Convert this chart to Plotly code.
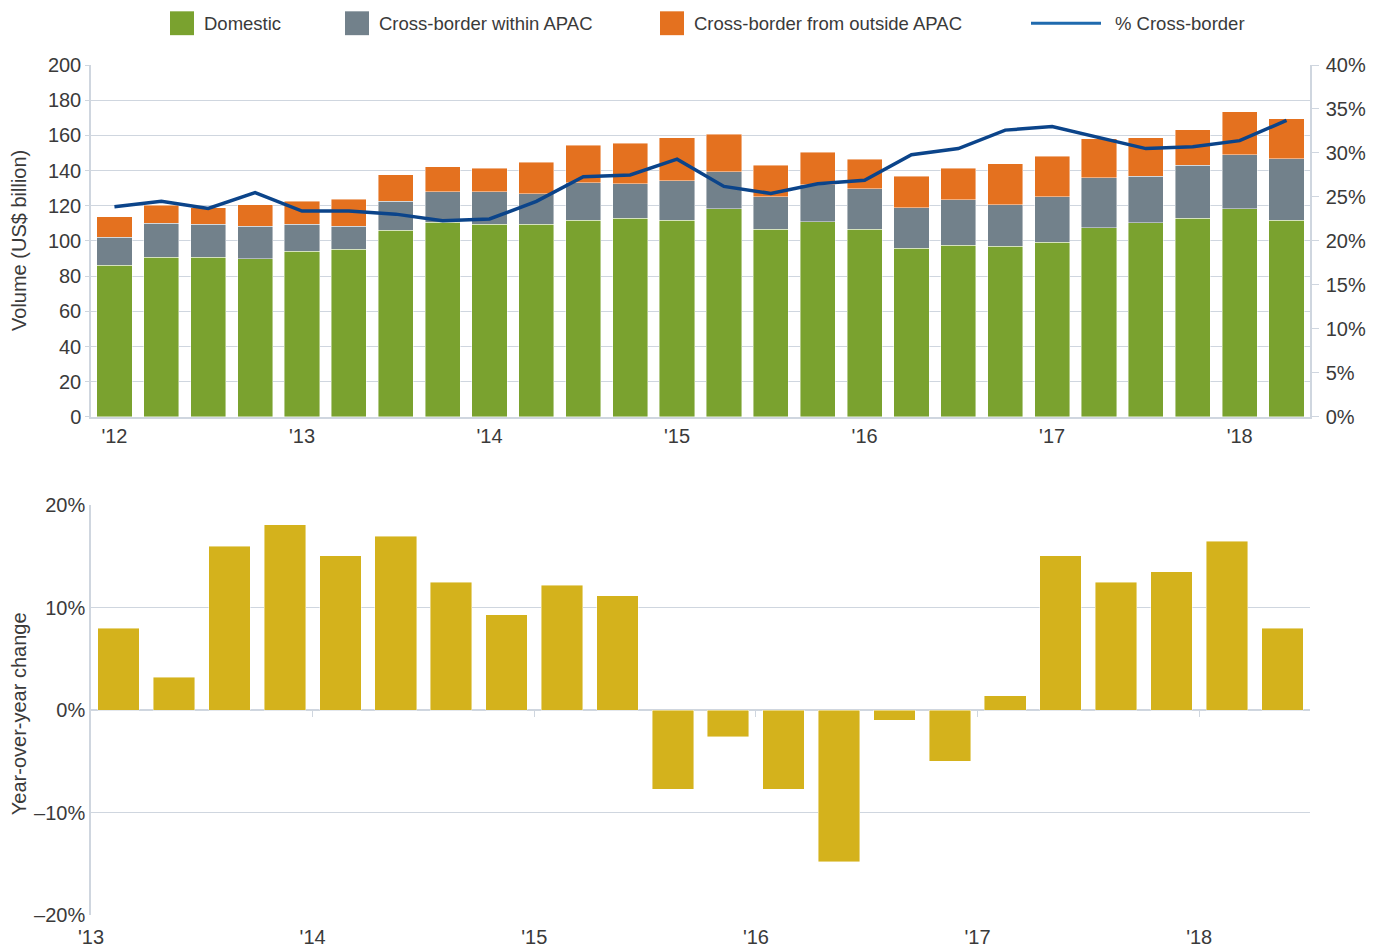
import plotly.graph_objects as go

# quarterly deal volume, '12 Q1 .. '18 Q2 (US$ billion)
quarters = [f"{y} Q{q}" for y in range(2012, 2019) for q in range(1, 5)][:26]
domestic = [86.3, 90.8, 90.8, 89.8, 94.2, 95.3, 106.0, 110.6, 109.4, 109.4, 111.9, 112.8, 111.9,
            118.3, 106.6, 110.9, 106.6, 95.9, 97.7, 97.0, 99.4, 107.5, 110.3, 112.8, 118.3, 111.9]
within_apac = [15.8, 19.4, 18.6, 18.5, 15.2, 13.0, 16.6, 17.3, 18.5, 17.5, 21.2, 19.6, 22.2,
               21.1, 18.6, 21.1, 23.0, 23.1, 25.6, 23.7, 25.8, 28.3, 26.4, 30.1, 30.7, 34.8]
outside_apac = [11.6, 10.1, 9.6, 12.4, 13.2, 15.3, 15.1, 14.3, 13.3, 17.7, 21.3, 23.0, 24.7,
                21.2, 17.7, 18.5, 16.9, 17.7, 17.9, 23.2, 23.0, 22.2, 22.1, 20.4, 24.3, 22.8]
pct_cross_border = [23.9, 24.5, 23.7, 25.5, 23.4, 23.4, 23.05, 22.3, 22.5, 24.5, 27.3, 27.5, 29.3,
                    26.2, 25.4, 26.5, 26.9, 29.8, 30.5, 32.6, 33.0, 31.7, 30.5, 30.7, 31.4, 33.7]
top_ticktext = ["'12", "'13", "'14", "'15", "'16", "'17", "'18"]

# year-over-year change, '13 Q1 .. '18 Q2 (%)
yoy_change = [8.0, 3.2, 16.0, 18.1, 15.1, 17.0, 12.5, 9.3, 12.2, 11.2, -7.7,
              -2.6, -7.7, -14.8, -1.0, -5.0, 1.4, 15.1, 12.5, 13.5, 16.5, 8.0]
bottom_ticktext = ["'13", "'14", "'15", "'16", "'17", "'18"]
yoy_ticks = [-20, -10, 0, 10, 20]
yoy_ticktext = ["–20%", "–10%", "0%", "10%", "20%"]

GREEN, GREY, ORANGE = "#7aa22f", "#72818b", "#e4711f"
NAVY, GOLD = "#0b448a", "#d4b21c"
GRID = "#cfd6df"
TEXT = "#3a3a3a"
FONT = "Liberation Sans, Arial, sans-serif"

W, H = 1382, 952
OFF = 8  # the page body adds an 8px margin around the plot div
# the page overflows vertically and ends up slightly squeezed; undo that in y
SQ_A, SQ_B = 0.99415, 0.38


def page_y(y):
    return (y - SQ_B) / SQ_A


PLOT_TOP, PLOT_BOT = page_y(65), page_y(920)
L, T = 91 - OFF, PLOT_TOP - OFF
plot_w, plot_h = 1219, PLOT_BOT - PLOT_TOP
R, B = W - L - plot_w, H - T - plot_h


def px(x):
    # page pixel -> paper x
    return (x - OFF - L) / plot_w


def py(y):
    # page pixel -> paper y
    return (PLOT_BOT - page_y(y)) / plot_h


top_dom = [py(419), 1.0]
bot_dom = [0.0, py(508)]

fig = go.Figure()

xi = list(range(len(quarters)))
bar_edge = dict(width=0.8, color="rgba(255,255,255,0.55)")
for name, vals, col in [("Domestic", domestic, GREEN),
                        ("Cross-border within APAC", within_apac, GREY),
                        ("Cross-border from outside APAC", outside_apac, ORANGE)]:
    fig.add_trace(go.Bar(x=xi, y=vals, name=name, marker=dict(color=col, line=bar_edge),
                         xaxis="x", yaxis="y", customdata=quarters,
                         hovertemplate="%{customdata}<br>%{y:.1f}<extra>" + name + "</extra>"))

fig.add_trace(go.Scatter(x=xi, y=pct_cross_border, name="% Cross-border", mode="lines",
                         line=dict(color=NAVY, width=3.5), xaxis="x", yaxis="y2",
                         customdata=quarters,
                         hovertemplate="%{customdata}<br>%{y:.1f}%<extra></extra>"))

xb = [i + 0.5 for i in range(len(yoy_change))]
fig.add_trace(go.Bar(x=xb, y=yoy_change, name="YoY", marker=dict(color=GOLD, line=bar_edge),
                     xaxis="x2", yaxis="y3", customdata=quarters[4:],
                     hovertemplate="%{customdata}<br>%{y:.1f}%<extra></extra>"))
# carrier for the tick marks on the zero line
fig.add_trace(go.Scatter(x=[None], y=[None], xaxis="x3", yaxis="y3", showlegend=False,
                         hoverinfo="skip"))

tick_font = dict(family=FONT, size=20, color=TEXT)
fig.update_layout(
    width=W, height=H,
    margin=dict(l=L, r=R, t=T, b=B),
    paper_bgcolor="white", plot_bgcolor="white",
    barmode="stack", bargap=0.25,
    showlegend=False,
    font=dict(family=FONT, color=TEXT),
    xaxis=dict(domain=[0, 1], anchor="y", range=[-0.5, len(quarters) - 0.5],
               tickvals=xi[::4], ticktext=top_ticktext, tickfont=tick_font,
               showgrid=False, zeroline=False, showline=True, linecolor=GRID, linewidth=1.5,
               ticks="", ticklabelstandoff=0),
    yaxis=dict(domain=top_dom, range=[0, 200], dtick=20, tickfont=tick_font,
               showgrid=True, gridcolor=GRID, gridwidth=1.2, zeroline=False,
               showline=True, linecolor=GRID, linewidth=1.5, ticks="outside", ticklen=4,
               tickcolor=GRID),
    yaxis2=dict(overlaying="y", side="right", anchor="x", range=[0, 40], dtick=5,
                ticksuffix="%", tickfont=tick_font, showgrid=False, zeroline=False,
                showline=True, linecolor=GRID, linewidth=1.5, ticks="outside", ticklen=7,
                tickcolor=GRID, ticklabelstandoff=3),
    xaxis2=dict(domain=[0, 1], anchor="y3", range=[0, len(yoy_change)],
                tickvals=list(range(0, len(yoy_change), 4)), ticktext=bottom_ticktext,
                tickfont=tick_font, showgrid=False, zeroline=False, showline=False, ticks="",
                ticklabelstandoff=8),
    xaxis3=dict(domain=[0, 1], anchor="free", overlaying="x2", side="bottom",
                position=(bot_dom[0] + bot_dom[1]) / 2, range=[0, len(yoy_change)],
                tickvals=list(range(4, len(yoy_change), 4)), showticklabels=False,
                ticks="outside", ticklen=6, tickcolor=GRID, showgrid=False,
                zeroline=False, showline=False),
    yaxis3=dict(domain=bot_dom, anchor="x2", range=[-20, 20], tickvals=yoy_ticks,
                ticktext=yoy_ticktext, tickfont=tick_font, showgrid=True, gridcolor=GRID,
                gridwidth=1.2, zeroline=True, zerolinecolor=GRID, zerolinewidth=1.5,
                showline=True, linecolor=GRID, linewidth=1.5),
)

# axis titles
for text, ymid in [("Volume (US$ billion)", 242), ("Year-over-year change", 718)]:
    fig.add_annotation(text=text, xref="paper", yref="paper", x=px(19), y=py(ymid),
                       xanchor="center", yanchor="middle", textangle=-90, showarrow=False,
                       font=dict(family=FONT, size=20, color=TEXT))

# legend drawn by hand to match the original spacing and swatch size
legend_items = [("Domestic", GREEN, 170), ("Cross-border within APAC", GREY, 345),
                ("Cross-border from outside APAC", ORANGE, 660)]
for label, col, x0 in legend_items:
    fig.add_shape(type="rect", xref="paper", yref="paper", x0=px(x0), x1=px(x0 + 24),
                  y0=py(35), y1=py(11), fillcolor=col, line=dict(width=0))
    fig.add_annotation(text=label, xref="paper", yref="paper", x=px(x0 + 32), y=py(23),
                       xanchor="left", yanchor="middle", showarrow=False,
                       font=dict(family=FONT, size=18.5, color=TEXT))
fig.add_shape(type="line", xref="paper", yref="paper", x0=px(1031), x1=px(1101),
              y0=py(23), y1=py(23), line=dict(color="#1f6aae", width=3))
fig.add_annotation(text="% Cross-border", xref="paper", yref="paper", x=px(1113), y=py(23),
                   xanchor="left", yanchor="middle", showarrow=False,
                   font=dict(family=FONT, size=18.5, color=TEXT))

fig.write_html("out.html")
